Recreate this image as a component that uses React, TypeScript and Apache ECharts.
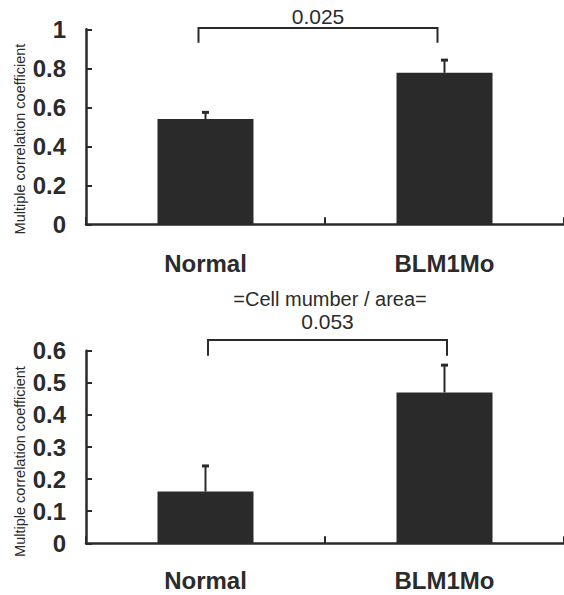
import React, { useEffect, useRef } from "react";
import * as echarts from "echarts";

const categories = ["Normal", "BLM1Mo"];
const topMeans = [0.54, 0.777];
const topErrors = [0.034, 0.065];
const bottomMeans = [0.161, 0.47];
const bottomErrors = [0.08, 0.085];
const topTicks = { min: 0, max: 1, interval: 0.2 };
const bottomTicks = { min: 0, max: 0.6, interval: 0.1 };
const pValues = ["0.025", "0.053"];
const bracketLevels = [1.007, 0.633];
const bracketDrops = [0.931, 0.584];
const yTitle = "Multiple correlation coefficient";
const bottomTitle = "=Cell mumber / area=";

const FONT = '"Liberation Sans", Arial, Helvetica, sans-serif';
const INK = "#2a2a2a";
const TEXT = "#2b2b2b";

export default function App() {
  const ref = useRef<HTMLDivElement>(null);

  useEffect(() => {
    if (!ref.current) return;
    const chart = echarts.init(ref.current, null, { renderer: "svg" });

    const xAxisBase = (gridIndex: number, margin: number) => ({
      gridIndex,
      type: "category",
      data: categories,
      boundaryGap: true,
      axisLine: { show: true, lineStyle: { color: INK, width: 2.5 } },
      axisTick: { show: true, inside: true, length: 7, lineStyle: { color: INK, width: 2 } },
      axisLabel: {
        fontSize: 24,
        fontWeight: "bold",
        fontFamily: FONT,
        color: TEXT,
        margin,
        verticalAlign: "middle",
      },
      splitLine: { show: false },
    });

    const yAxisBase = (gridIndex: number, t: { min: number; max: number; interval: number }) => ({
      gridIndex,
      type: "value",
      min: t.min,
      max: t.max,
      interval: t.interval,
      splitLine: { show: false },
      axisLine: { show: true, lineStyle: { color: INK, width: 2.5 } },
      axisTick: { show: true, inside: true, length: 6, lineStyle: { color: INK, width: 2 } },
      axisLabel: {
        fontSize: 24,
        fontWeight: "bold",
        fontFamily: FONT,
        color: TEXT,
        margin: 20,
      },
    });

    const errorSeries = (idx: number, means: number[], errs: number[]) => ({
      type: "custom",
      xAxisIndex: idx,
      yAxisIndex: idx,
      z: 5,
      encode: { x: 0, y: 1 },
      data: means.map((m, i) => [i, m, errs[i]]),
      renderItem: (_p: any, api: any) => {
        const c = api.coord([api.value(0), api.value(1)]);
        const t = api.coord([api.value(0), api.value(1) + api.value(2)]);
        return {
          type: "group",
          children: [
            {
              type: "line",
              shape: { x1: c[0], y1: c[1], x2: c[0], y2: t[1] },
              style: { stroke: INK, lineWidth: 2 },
            },
            {
              type: "line",
              shape: { x1: c[0] - 3.5, y1: t[1], x2: c[0] + 3.5, y2: t[1] },
              style: { stroke: INK, lineWidth: 3 },
            },
          ],
        };
      },
    });

    const bracketSeries = (idx: number, shift: number, gap: number) => ({
      type: "custom",
      xAxisIndex: idx,
      yAxisIndex: idx,
      z: 5,
      clip: false,
      data: [[0, 1, bracketLevels[idx], bracketDrops[idx]]],
      renderItem: (_p: any, api: any) => {
        const a = api.coord([api.value(0), api.value(2)]);
        const b = api.coord([api.value(1), api.value(2)]);
        const d = api.coord([api.value(0), api.value(3)]);
        const xa = a[0] + shift;
        const xb = b[0] + shift;
        return {
          type: "group",
          children: [
            {
              type: "polyline",
              shape: { points: [[xa, d[1]], [xa, a[1]], [xb, a[1]], [xb, d[1]]] },
              style: { stroke: INK, lineWidth: 2, fill: "none" },
            },
            {
              type: "text",
              x: (xa + xb) / 2,
              y: a[1] - gap,
              style: {
                text: pValues[idx],
                fontSize: 21,
                fontFamily: FONT,
                fill: TEXT,
                align: "center",
                verticalAlign: "middle",
              },
            },
          ],
        };
      },
    });

    chart.setOption({
      animation: false,
      backgroundColor: "#ffffff",
      grid: [
        { left: 86, top: 29.3, width: 482, height: 195, containLabel: false },
        { left: 86, top: 350.7, width: 482, height: 192.6, containLabel: false },
      ],
      xAxis: [xAxisBase(0, 39), xAxisBase(1, 37)],
      yAxis: [yAxisBase(0, topTicks), yAxisBase(1, bottomTicks)],
      graphic: [
        {
          type: "text",
          x: 20,
          y: 139,
          rotation: Math.PI / 2,
          style: {
            text: yTitle,
            fontSize: 14.5,
            fontFamily: FONT,
            fill: TEXT,
            align: "center",
            verticalAlign: "middle",
          },
        },
        {
          type: "text",
          x: 20,
          y: 461.5,
          rotation: Math.PI / 2,
          style: {
            text: yTitle,
            fontSize: 14.5,
            fontFamily: FONT,
            fill: TEXT,
            align: "center",
            verticalAlign: "middle",
          },
        },
        {
          type: "text",
          x: 330,
          y: 299,
          style: {
            text: bottomTitle,
            fontSize: 20,
            fontFamily: FONT,
            fill: TEXT,
            align: "center",
            verticalAlign: "middle",
          },
        },
      ],
      series: [
        {
          type: "bar",
          xAxisIndex: 0,
          yAxisIndex: 0,
          data: topMeans,
          barWidth: 96,
          itemStyle: { color: INK },
        },
        {
          type: "bar",
          xAxisIndex: 1,
          yAxisIndex: 1,
          data: bottomMeans,
          barWidth: 96,
          itemStyle: { color: INK },
        },
        errorSeries(0, topMeans, topErrors),
        errorSeries(1, bottomMeans, bottomErrors),
        bracketSeries(0, -7, 11.5),
        bracketSeries(1, 2.5, 18.5),
      ],
    });

    return () => chart.dispose();
  }, []);

  return (
    <div
      ref={ref}
      style={{ position: "absolute", left: 0, top: 0, width: 564, height: 595, background: "#fff" }}
    />
  );
}
